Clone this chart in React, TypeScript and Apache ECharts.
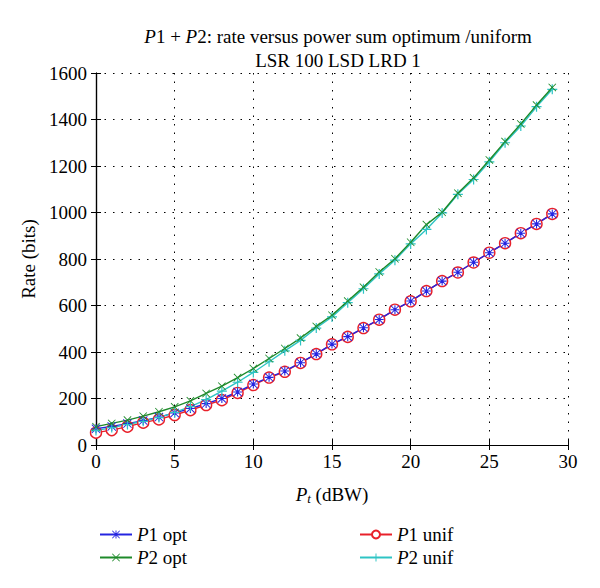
import React, { useEffect, useRef } from "react";
import * as echarts from "echarts";

const xValues = [0, 1, 2, 3, 4, 5, 6, 7, 8, 9, 10, 11, 12, 13, 14, 15, 16, 17, 18, 19, 20, 21, 22, 23, 24, 25, 26, 27, 28, 29];
const p1Opt = [70, 80, 92, 105, 120, 138, 157, 178, 200, 228, 262, 291, 318, 354, 392, 434, 466, 504, 540, 582, 619, 662, 705, 743, 786, 827, 868, 911, 951, 994];
const p2Opt = [79, 93, 107, 124, 143, 164, 190, 222, 253, 290, 329, 372, 415, 460, 510, 558, 619, 679, 744, 801, 872, 948, 1001, 1083, 1149, 1226, 1305, 1381, 1462, 1538];
const p1Unif = [53, 64, 79, 96, 110, 129, 150, 172, 193, 224, 258, 290, 315, 353, 391, 433, 465, 503, 539, 582, 618, 662, 705, 742, 785, 827, 868, 911, 951, 994];
const p2Unif = [62, 75, 88, 102, 118, 140, 165, 195, 232, 270, 312, 358, 405, 450, 503, 551, 612, 672, 736, 795, 865, 927, 998, 1078, 1142, 1218, 1300, 1372, 1455, 1530];
const seriesNames = ["P1 opt", "P2 opt", "P1 unif", "P2 unif"];
const xTicks = { min: 0, max: 30, interval: 5 };
const yTicks = { min: 0, max: 1600, interval: 200 };

const PLUS = "path://M8.8,0 H11.2 V8.8 H20 V11.2 H11.2 V20 H8.8 V11.2 H0 V8.8 H8.8 Z";
const STAR =
  "path://M8.8,0 H11.2 V8.8 H20 V11.2 H11.2 V20 H8.8 V11.2 H0 V8.8 H8.8 Z M1.5,0 L10,8.5 L18.5,0 L20,1.5 L11.5,10 L20,18.5 L18.5,20 L10,11.5 L1.5,20 L0,18.5 L8.5,10 L0,1.5 Z";
const CROSS = "path://M1.5,0 L10,8.5 L18.5,0 L20,1.5 L11.5,10 L20,18.5 L18.5,20 L10,11.5 L1.5,20 L0,18.5 L8.5,10 L0,1.5 Z";

const FONT = "Liberation Serif";
const FS = 19;

export default function App() {
  const ref = useRef<HTMLDivElement>(null);
  useEffect(() => {
    const chart = echarts.init(ref.current!, null, { renderer: "svg" });
    const toData = (vals: number[]) => xValues.map((x, i) => [x, vals[i]]);
    const italicRich = {
      i: { fontStyle: "italic", fontFamily: FONT, fontSize: FS, color: "#000" },
      n: { fontFamily: FONT, fontSize: FS, color: "#000" },
    };
    const axisCommon = {
      axisLine: { show: true, lineStyle: { color: "#000", width: 1.2 } },
      axisTick: { show: true, inside: true, length: 5, lineStyle: { color: "#000" } },
    };
    const mk = (name: string, vals: number[], color: string, symbol: string, size: number, empty = false) => ({
      name,
      type: "line",
      data: toData(vals),
      symbol,
      symbolSize: size,
      showAllSymbol: true,
      lineStyle: { color, width: 1.4 },
      itemStyle: empty
        ? { color: "#fff", borderColor: color, borderWidth: 1.4 }
        : { color, borderColor: color, borderWidth: 0 },
      color,
    });
    chart.setOption({
      animation: false,
      backgroundColor: "#fff",
      textStyle: { fontFamily: FONT },
      title: {
        left: 333,
        top: 19,
        textAlign: "center",
        text: "{i|P}{n|1 + }{i|P}{n|2: rate versus power sum optimum /uniform}\n{n|LSR 100 LSD LRD 1}",
        textStyle: { fontFamily: FONT, fontSize: FS, fontWeight: "normal", color: "#000", lineHeight: 24, rich: italicRich },
      },
      grid: { left: 96, top: 73, right: 32, bottom: 143, containLabel: false },
      xAxis: [
        {
          type: "value",
          ...xTicks,
          ...axisCommon,
          axisLabel: { color: "#000", fontFamily: FONT, fontSize: FS, margin: 7 },
          splitLine: { show: true, lineStyle: { color: "#000", type: [1.5, 7], width: 1 } },
          name: "{i|P}{s|t}{n| (dBW)}",
          nameLocation: "middle",
          nameGap: 38,
          nameTextStyle: {
            rich: {
              i: { fontStyle: "italic", fontFamily: FONT, fontSize: FS, color: "#000" },
              s: { fontStyle: "italic", fontFamily: FONT, fontSize: 13, color: "#000", padding: [9, 0, 0, 0] },
              n: { fontFamily: FONT, fontSize: FS, color: "#000" },
            },
          },
        },
        {
          type: "value",
          position: "top",
          ...xTicks,
          ...axisCommon,
          axisLabel: { show: false },
          splitLine: { show: false },
        },
      ],
      yAxis: [
        {
          type: "value",
          ...yTicks,
          ...axisCommon,
          axisLabel: { color: "#000", fontFamily: FONT, fontSize: FS, margin: 9, formatter: (v: number) => String(v) },
          splitLine: { show: true, lineStyle: { color: "#000", type: [1.5, 7], width: 1 } },
          name: "Rate (bits)",
          nameLocation: "middle",
          nameGap: 58,
          nameTextStyle: { fontFamily: FONT, fontSize: FS, color: "#000" },
        },
        {
          type: "value",
          position: "right",
          ...yTicks,
          ...axisCommon,
          axisLabel: { show: false },
          splitLine: { show: false },
        },
      ],
      legend: [
        {
          data: [seriesNames[0], seriesNames[1]],
          orient: "vertical",
          left: 94,
          top: 520,
          itemWidth: 32,
          itemHeight: 10,
          itemGap: 4,
          formatter: (n: string) => "{i|P}{n|" + n.slice(1) + "}",
          textStyle: { rich: italicRich },
        },
        {
          data: [seriesNames[2], seriesNames[3]],
          orient: "vertical",
          left: 354,
          top: 520,
          itemWidth: 32,
          itemHeight: 10,
          itemGap: 4,
          formatter: (n: string) => "{i|P}{n|" + n.slice(1) + "}",
          textStyle: { rich: italicRich },
        },
      ],
      series: [
        mk(seriesNames[2], p1Unif, "#e8202a", "circle", 11, true),
        mk(seriesNames[0], p1Opt, "#2424e0", STAR, 9),
        mk(seriesNames[3], p2Unif, "#2ec4c4", PLUS, 10),
        mk(seriesNames[1], p2Opt, "#1e8a2a", CROSS, 8),
      ],
    });
    return () => chart.dispose();
  }, []);
  return <div ref={ref} style={{ width: 600, height: 588, position: "absolute", left: 0, top: 0 }} />;
}
